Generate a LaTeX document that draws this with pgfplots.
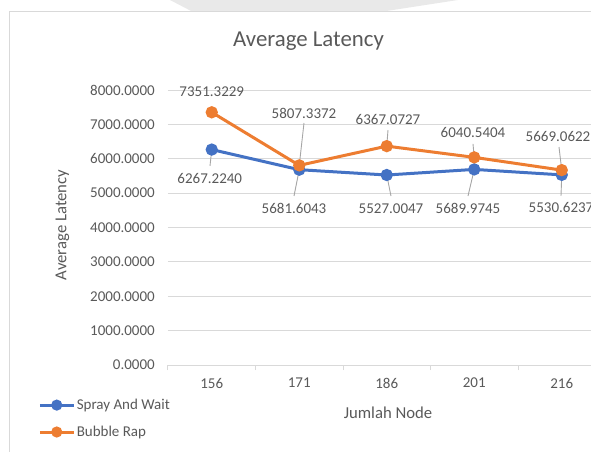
\documentclass[border=0pt]{standalone}
\usepackage{fontspec}
\setmainfont{Carlito}
\usepackage{pgfplots}
\pgfplotsset{compat=1.18}
\definecolor{sw}{HTML}{4472C4}
\definecolor{br}{HTML}{ED7D31}
\definecolor{txt}{HTML}{595959}
\definecolor{gridc}{HTML}{D9D9D9}
\definecolor{lead}{HTML}{A6A6A6}
\definecolor{topshade}{HTML}{E9E9E9}
\begin{document}
\begin{tikzpicture}[
  lbl/.style={font=\fontsize{15bp}{18bp}\selectfont, text=txt, inner sep=0pt, anchor=center},
  ld/.style={draw=lead, line width=0.9bp}]
\fill[topshade] (2bp,365bp) -- (290bp,365bp) -- (212bp,353bp) -- (25bp,353bp) -- cycle;
\draw[gridc, line width=1bp] (-158bp,-100bp) -- (-158bp,353bp) -- (440bp,353bp);
\begin{axis}[
  at={(0,0)}, anchor=south west, scale only axis,
  width=437.5bp, height=275bp,
  clip=false,
  xmin=-0.5, xmax=4.5, ymin=0, ymax=8000,
  xtick={0,1,2,3,4}, xticklabels={156,171,186,201,216},
  ytick={0,1000,...,8000},
  extra x ticks={-0.5,0.5,1.5,2.5,3.5,4.5},
  extra x tick labels={{},{},{},{},{},{}},
  extra x tick style={major tick length=5bp, tick align=outside, grid=none,
     tick style={draw=gridc, line width=1bp}},
  major tick length=0pt,
  ymajorgrids, grid style={draw=gridc, line width=1bp},
  axis x line*=bottom, axis y line*=left,
  x axis line style={draw=gridc, line width=1bp, -},
  y axis line style={draw=none},
  tick label style={font=\fontsize{15bp}{18bp}\selectfont, text=txt},
  yticklabel style={anchor=east, inner sep=0pt, xshift=-13bp},
  xticklabel style={anchor=center, inner sep=0pt, yshift=-18bp},
  /pgf/number format/fixed,
  /pgf/number format/fixed zerofill,
  /pgf/number format/precision=4,
  /pgf/number format/1000 sep={},
  /pgf/number format/assume math mode=true,
  legend style={at={(axis description cs:-0.297,-0.118)}, anchor=north west,
     draw=none, fill=none, inner sep=0pt, row sep=12bp,
     font=\fontsize{15bp}{18bp}\selectfont, text=txt,
     nodes={inner sep=1.5bp, text=txt}},
  legend cell align=left,
  legend image code/.code={\draw[mark repeat=2,mark phase=2,mark size=4bp] plot coordinates {(0bp,0bp) (17bp,0bp) (34bp,0bp)};},
]
% leader lines
\draw[ld] (axis cs:0,6267.2240) -- ([xshift=-1.75bp,yshift=-16.4bp]axis cs:0,6267.2240);
\draw[ld] (axis cs:1,5807.3372) -- ([xshift=4.75bp,yshift=42.4bp]axis cs:1,5807.3372);
\draw[ld] (axis cs:1,5681.6043) -- ([xshift=-5.25bp,yshift=-26.3bp]axis cs:1,5681.6043);
\draw[ld] (axis cs:2,6367.0727) -- ([xshift=1.25bp,yshift=16.1bp]axis cs:2,6367.0727);
\draw[ld] (axis cs:2,5527.0047) -- ([xshift=4.25bp,yshift=-21bp]axis cs:2,5527.0047);
\draw[ld] (axis cs:3,6040.5404) -- ([xshift=-1.25bp,yshift=13.4bp]axis cs:3,6040.5404);
\draw[ld] (axis cs:3,5689.9745) -- ([xshift=-6.25bp,yshift=-26.6bp]axis cs:3,5689.9745);
\draw[ld] (axis cs:4,5669.0622) -- ([xshift=-2.75bp,yshift=23.1bp]axis cs:4,5669.0622);
\draw[ld] (axis cs:4,5530.6237) -- ([xshift=-0.75bp,yshift=-21.1bp]axis cs:4,5530.6237);

\addplot[sw, line width=3bp, mark=*, mark size=4.6bp, mark options={solid, fill=sw}]
  coordinates {(0,6267.2240) (1,5681.6043) (2,5527.0047) (3,5689.9745) (4,5530.6237)};
\addlegendentry{Spray And Wait}
\addplot[br, line width=3bp, mark=*, mark size=4.6bp, mark options={solid, fill=br}]
  coordinates {(0,7351.3229) (1,5807.3372) (2,6367.0727) (3,6040.5404) (4,5669.0622)};
\addlegendentry{Bubble Rap}

% data labels
\node[lbl] at ([xshift=-2bp,yshift=-29.4bp]axis cs:0,6267.2240) {6267.2240};
\node[lbl] at ([xshift=-5.25bp,yshift=-38.3bp]axis cs:1,5681.6043) {5681.6043};
\node[lbl] at ([xshift=4.25bp,yshift=-34bp]axis cs:2,5527.0047) {5527.0047};
\node[lbl] at ([xshift=-6.25bp,yshift=-38.6bp]axis cs:3,5689.9745) {5689.9745};
\node[lbl] at ([xshift=-0.75bp,yshift=-33.1bp]axis cs:4,5530.6237) {5530.6237};
\node[lbl] at ([xshift=0bp,yshift=20.3bp]axis cs:0,7351.3229) {7351.3229};
\node[lbl] at ([xshift=4.75bp,yshift=52.4bp]axis cs:1,5807.3372) {5807.3372};
\node[lbl] at ([xshift=1.25bp,yshift=27.1bp]axis cs:2,6367.0727) {6367.0727};
\node[lbl] at ([xshift=-1.25bp,yshift=24.4bp]axis cs:3,6040.5404) {6040.5404};
\node[lbl] at ([xshift=-3.75bp,yshift=34.1bp]axis cs:4,5669.0622) {5669.0622};
\end{axis}
\node[font=\fontsize{22.8bp}{27bp}\selectfont, text=txt] at (140.5bp,323.5bp) {Average Latency};
\node[font=\fontsize{16.7bp}{20bp}\selectfont, text=txt, rotate=90] at (-105.5bp,140bp) {Average Latency};
\node[font=\fontsize{16.7bp}{20bp}\selectfont, text=txt] at (220bp,-48bp) {Jumlah Node};
\pgfresetboundingbox
\path[use as bounding box] (-168bp,-87bp) rectangle (423bp,365bp);
\end{tikzpicture}
\end{document}
